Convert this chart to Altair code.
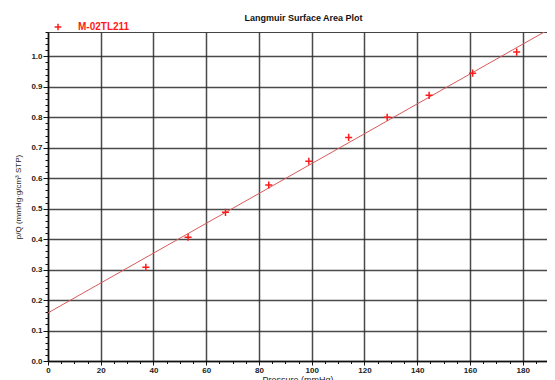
import altair as alt
import pandas as pd

series_name = "M-02TL211"
pressure = [37.1, 53.1, 67.3, 83.7, 98.9, 114.0, 128.6, 144.5, 161.0, 177.7]
p_over_q = [0.308, 0.406, 0.488, 0.578, 0.656, 0.734, 0.800, 0.872, 0.945, 1.014]
fit_intercept = 0.158
fit_slope = 0.0049
fit_range = [0, 200]

pts = pd.DataFrame({"x": pressure, "y": p_over_q, "series": [series_name] * len(pressure)})
fit = pd.DataFrame({"x": fit_range, "y": [fit_intercept + fit_slope * v for v in fit_range]})

FONT = "Liberation Sans"
plus_path = "M-1,0H1M0,-1V1"

x_vals = list(range(0, 190, 5))
y_vals = [round(i * 0.02, 2) for i in range(0, 55)]
x_major = "round(datum.value) % 20 === 0"
y_major = "round(datum.value*100) % 10 === 0"

xscale = alt.Scale(domain=[0, 189.2], nice=False, zero=False)
yscale = alt.Scale(domain=[0, 1.08], nice=False)

x_axis = alt.Axis(
    title="Pressure (mmHg)", values=x_vals,
    labelExpr=f"{x_major} ? datum.label : ''",
    gridOpacity={"condition": {"test": x_major, "value": 0.85}, "value": 0},
    tickSize={"condition": {"test": x_major, "value": 4}, "value": 2.5},
    labelFont=FONT, labelFontSize=8, labelFontWeight="bold", labelColor="#222",
    titleFont=FONT, titleFontSize=9, titleFontWeight="normal", titleColor="#222",
    titlePadding=1, labelPadding=1, labelFlush=False, labelOverlap=False,
)
y_axis = alt.Axis(
    title="p/Q (mmHg·g/cm³ STP)", values=y_vals,
    labelExpr=f"{y_major} ? format(datum.value, '.1f') : ''",
    gridOpacity={"condition": {"test": y_major, "value": 0.85}, "value": 0},
    tickSize={"condition": {"test": y_major, "value": 5}, "value": 3},
    labelFont=FONT, labelFontSize=8, labelFontWeight="bold", labelColor="#222",
    titleFont=FONT, titleFontSize=8, titleFontWeight="normal", titleColor="#222",
    titlePadding=8, labelPadding=1, labelFlush=False, labelOverlap=False,
)

line = alt.Chart(fit).mark_line(color="#d85a5a", strokeWidth=1, clip=True).encode(
    x=alt.X("x:Q", scale=xscale, axis=x_axis),
    y=alt.Y("y:Q", scale=yscale, axis=y_axis),
)

points = alt.Chart(pts).mark_point(shape=plus_path, filled=False, strokeWidth=1.5, size=50, opacity=1).encode(
    x=alt.X("x:Q", scale=xscale, axis=x_axis),
    y=alt.Y("y:Q", scale=yscale, axis=y_axis),
    color=alt.Color("series:N", scale=alt.Scale(domain=[series_name], range=["#ff1a1a"]),
                    legend=alt.Legend(title=None, orient="none", legendX=5, legendY=-10,
                                      symbolType=plus_path, symbolStrokeWidth=1.5, symbolSize=45,
                                      symbolStrokeColor="#ff1a1a", symbolFillColor="transparent",
                                      labelColor="#ff1a1a", labelFont=FONT, labelFontSize=10,
                                      labelFontWeight="bold", labelOffset=15, padding=0)),
)

chart = (line + points).properties(
    width=499, height=329,
    title=alt.TitleParams("Langmuir Surface Area Plot", font=FONT, fontSize=9, fontWeight="bold",
                          anchor="middle", offset=-1, color="#111", dx=6),
    autosize=alt.AutoSizeParams(type="none"),
    padding={"left": 40, "top": 24, "right": 0, "bottom": 20},
).configure_view(stroke="#444", strokeWidth=1).configure_axis(
    gridColor="#2a2a2a", gridWidth=1.5, domainColor="#111", domainWidth=1.5,
    tickColor="#111", tickWidth=1,
)

chart.save("out.html", embed_options={"renderer": "svg", "actions": False})
